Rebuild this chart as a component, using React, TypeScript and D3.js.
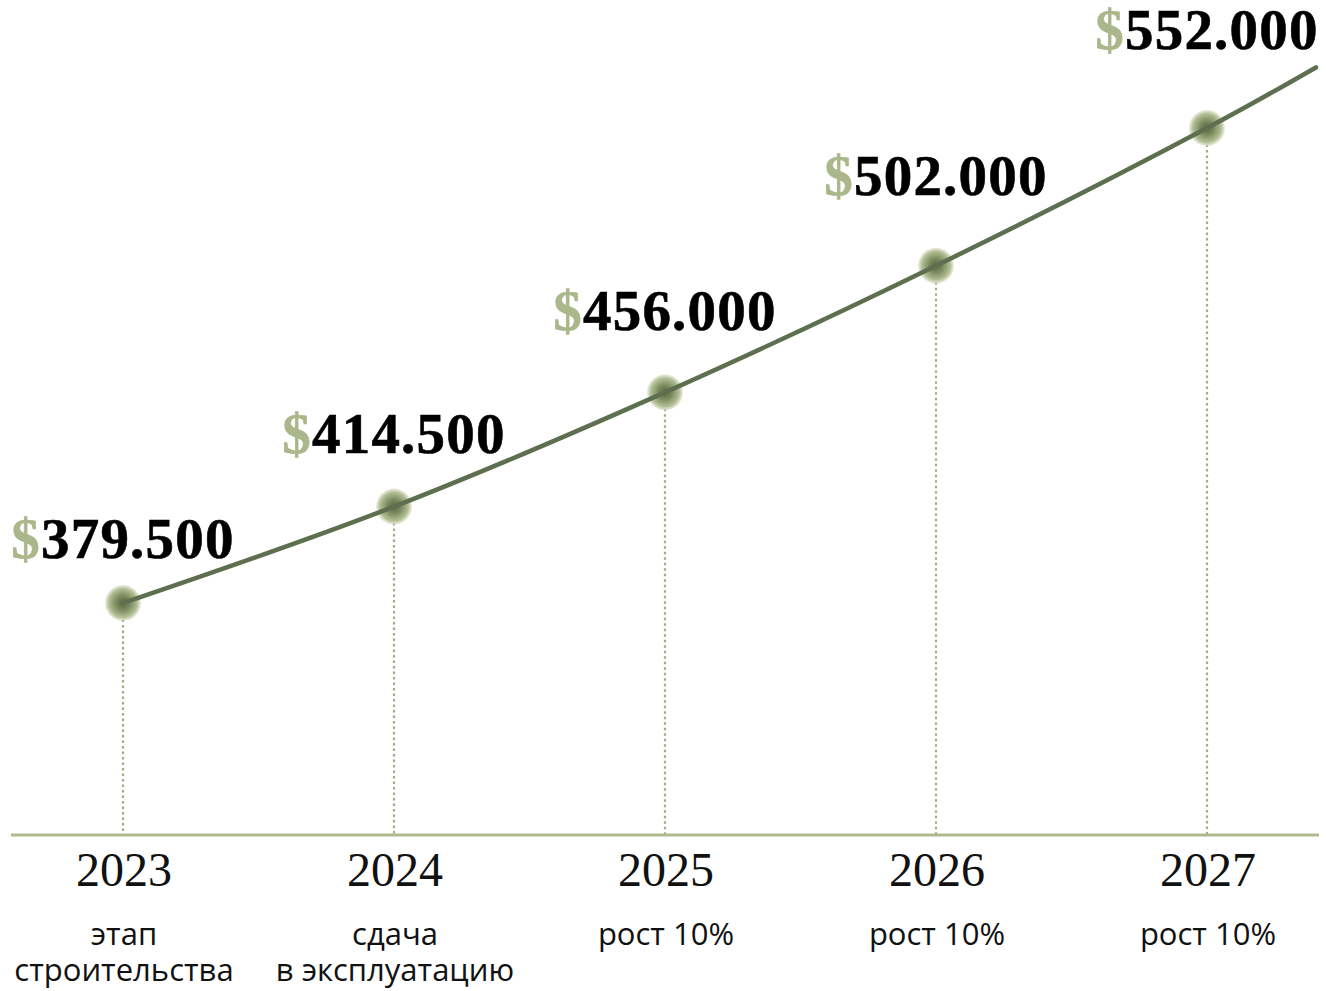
import React from "react";
import * as d3 from "d3";

const years = ["2023", "2024", "2025", "2026", "2027"];
const values = [379500, 414500, 456000, 502000, 552000];
const valueLabels = ["379.500", "414.500", "456.000", "502.000", "552.000"];
const notes: string[][] = [
  ["этап", "строительства"],
  ["сдача", "в эксплуатацию"],
  ["рост 10%"],
  ["рост 10%"],
  ["рост 10%"],
];
// trend continuation past the last year (fraction of a year step, value)
const trendStep = 0.402;
const trendValue = 574000;

const W = 1326;
const H = 991;

export default function App() {
  const x = d3.scaleLinear().domain([0, years.length - 1]).range([123, 1207]);
  const y = d3.scaleLinear().domain([295600, 552000]).range([834, 128]);

  const pts: [number, number][] = values.map((v, i) => [x(i), y(v)]);
  pts.push([x(years.length - 1 + trendStep), y(trendValue)]);
  const line = d3
    .line<[number, number]>()
    .x((d) => d[0])
    .y((d) => d[1])
    .curve(d3.curveCatmullRom.alpha(0.5));

  const baseY = y(295600);

  return (
    <svg
      width={W}
      height={H}
      style={{ position: "absolute", left: 0, top: 0, background: "#fff" }}
    >
      <defs>
        <radialGradient id="dot" cx="50%" cy="50%" r="50%">
          <stop offset="0%" stopColor="#56663f" />
          <stop offset="40%" stopColor="#7d8c60" />
          <stop offset="80%" stopColor="#b4bf96" />
          <stop offset="100%" stopColor="#d6dcc2" stopOpacity={0.5} />
        </radialGradient>
      </defs>

      {values.map((v, i) => (
        <line
          key={"v" + i}
          x1={x(i)}
          x2={x(i)}
          y1={y(v)}
          y2={baseY}
          stroke="#a3ad83"
          strokeWidth={2.2}
          strokeDasharray="2.5 3"
        />
      ))}

      <line x1={11} x2={1319} y1={baseY + 1} y2={baseY + 1} stroke="#adb98e" strokeWidth={3} />

      {values.map((v, i) => (
        <circle key={"c" + i} cx={x(i)} cy={y(v)} r={18} fill="url(#dot)" />
      ))}

      <path d={line(pts) || ""} fill="none" stroke="#5d6f4e" strokeWidth={4.5} strokeLinecap="round" />

      {values.map((v, i) => (
        <text
          key={"l" + i}
          x={x(i)}
          y={y(v) - (45 + 8.5 * i)}
          textAnchor="middle"
          fontFamily="'Liberation Serif', 'Times New Roman', serif"
          fontWeight="bold"
          fontSize={57}
          letterSpacing={1.2}
          stroke="#000"
          strokeWidth={0.6}
        >
          <tspan fill="#a9b78a" stroke="#a9b78a">$</tspan>
          <tspan fill="#000">{valueLabels[i]}</tspan>
        </text>
      ))}

      {years.map((yr, i) => (
        <text
          key={"y" + i}
          x={x(i) + 1}
          y={886}
          textAnchor="middle"
          fontFamily="'Liberation Serif', 'Times New Roman', serif"
          fontSize={48}
          fill="#111"
        >
          {yr}
        </text>
      ))}

      {notes.map((lines, i) => (
        <text
          key={"n" + i}
          textAnchor="middle"
          fontFamily="'Open Sans', 'Noto Sans', sans-serif"
          fontSize={31}
          fill="#111"
        >
          {lines.map((t, j) => (
            <tspan key={j} x={x(i) + 1} y={945 + j * 36}>
              {t}
            </tspan>
          ))}
        </text>
      ))}
    </svg>
  );
}
